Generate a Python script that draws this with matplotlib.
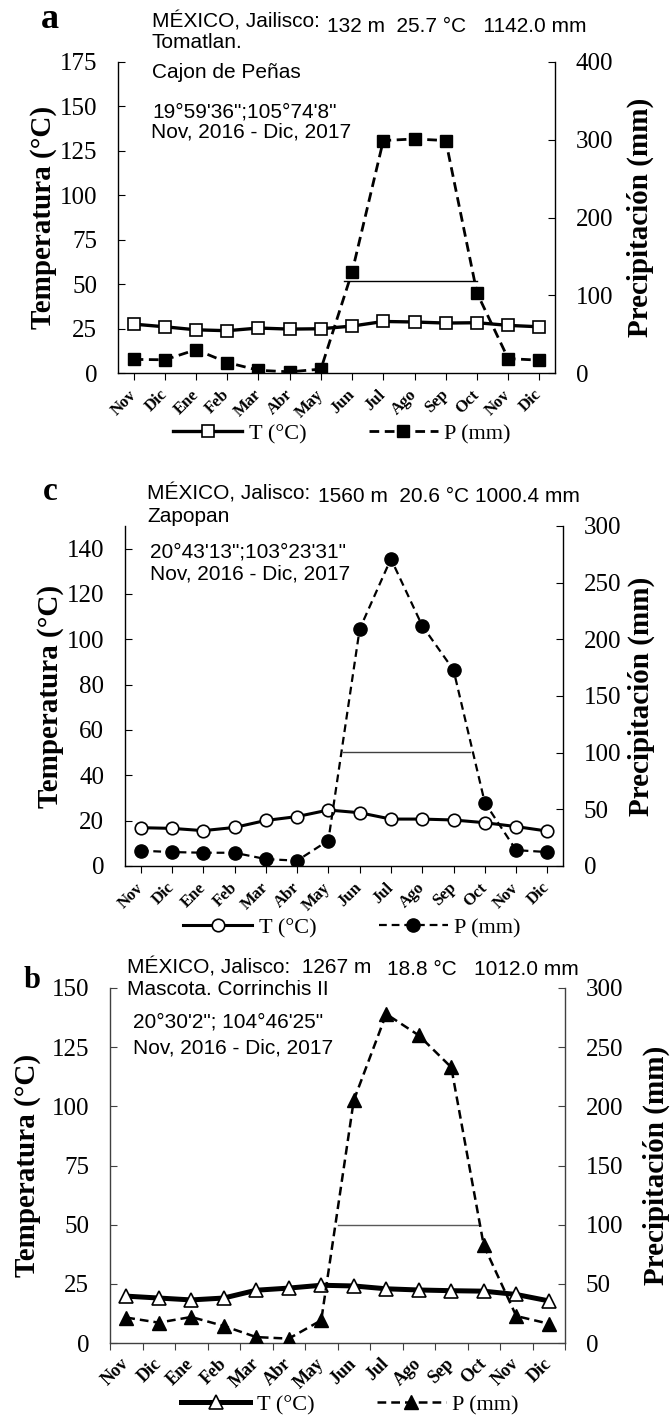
import matplotlib
matplotlib.use("Agg")
import matplotlib.pyplot as plt
import numpy as np
from matplotlib.lines import Line2D

# ---------------- data ----------------
MONTHS = ["Nov", "Dic", "Ene", "Feb", "Mar", "Abr", "May",
          "Jun", "Jul", "Ago", "Sep", "Oct", "Nov", "Dic"]

# Panel a: Tomatlan, Cajon de Peñas
A_T = [27.5, 26.0, 24.3, 23.8, 25.3, 24.7, 24.9, 26.4, 29.0, 28.7, 28.1, 28.3, 26.8, 26.0]
A_P = [17.5, 17.0, 30.0, 13.5, 3.5, 1.5, 5.0, 130.0, 299.0, 301.0, 299.0, 103.0, 18.5, 16.5]
A_LEFT_TICKS = [0, 25, 50, 75, 100, 125, 150, 175]
A_RIGHT_TICKS = [0, 100, 200, 300, 400]
A_WET = [51.8, 6.73, 11.0]          # level (°C axis), from, to (month index)

# Panel c: Zapopan
C_T = [16.9, 16.6, 15.6, 17.0, 20.1, 21.8, 24.7, 23.5, 20.7, 20.7, 20.3, 19.1, 17.4, 15.4]
C_P = [13.5, 12.3, 11.7, 11.7, 6.1, 4.7, 22.5, 209.0, 271.0, 212.0, 173.0, 56.0, 14.0, 12.3]
C_LEFT_TICKS = [0, 20, 40, 60, 80, 100, 120, 140]
C_RIGHT_TICKS = [0, 50, 100, 150, 200, 250, 300]
C_WET = [50.4, 6.46, 10.54]

# Panel b: Mascota, Corrinchis II
B_T = [19.8, 19.0, 18.2, 19.0, 22.3, 23.2, 24.4, 24.1, 22.9, 22.4, 22.1, 21.9, 20.5, 17.8]
B_P = [21.5, 17.2, 22.0, 14.4, 5.0, 3.7, 19.2, 205.0, 278.0, 260.0, 233.0, 82.5, 22.8, 16.3]
B_LEFT_TICKS = [0, 25, 50, 75, 100, 125, 150]
B_RIGHT_TICKS = [0, 50, 100, 150, 200, 250, 300]
B_WET = [50.0, 6.52, 10.83]

SERIF = "Liberation Serif"
SANS = "Liberation Sans"

W, H = 670, 1416
fig = plt.figure(figsize=(W / 100, H / 100), dpi=100)


def fx(px):
    return px / W


def fy(py):
    return 1 - py / H


def box(l, r, t, b):
    return [fx(l), fy(b), (r - l) / W, (b - t) / H]


def panel(rect, T, P, left_ticks, tmax, right_ticks, pmax, wet,
          tmarker, pmarker, tlw, plw, tms, pms, dash, spine_col,
          ticks_between, wet_col, msize):
    ax = fig.add_axes(rect)
    x = np.arange(len(MONTHS))
    ax.plot([wet[1], wet[2]], [wet[0], wet[0]], color=wet_col, lw=1.0, zorder=2)
    ax.plot(x, T, color="k", lw=tlw, marker=tmarker, ms=tms, mfc="white",
            mec="k", mew=1.2, zorder=3)
    ax.set_xlim(-0.5, len(MONTHS) - 0.5)
    ax.set_ylim(0, tmax)
    ax.set_yticks(left_ticks)
    ax2 = ax.twinx()
    ax2.plot(x, P, color="k", lw=plw, ls=(0, dash), marker=pmarker, ms=pms,
             mfc="k", mec="k", zorder=3)
    ax2.set_ylim(0, pmax)
    ax2.set_yticks(right_ticks)
    for a in (ax, ax2):
        a.spines["top"].set_visible(False)
        for s in a.spines.values():
            s.set_color(spine_col)
            s.set_linewidth(1.0)
    ax2.spines["left"].set_visible(False)
    ax2.spines["bottom"].set_visible(False)
    ax.spines["right"].set_visible(False)
    ax.tick_params(axis="y", direction="in", length=5, pad=15, labelsize=18,
                   color=spine_col)
    ax2.tick_params(axis="y", direction="in", length=5, pad=15, labelsize=18,
                    color=spine_col)
    for lab in ax.get_yticklabels() + ax2.get_yticklabels():
        lab.set_fontfamily(SERIF)
    if ticks_between:
        ax.set_xticks(np.arange(-0.5, len(MONTHS), 1.0))
        ax.set_xticklabels([])
        ax.set_xticks(x, minor=True)
        ax.set_xticklabels(MONTHS, minor=True)
        ax.tick_params(axis="x", which="major", direction="out", length=5,
                       color=spine_col)
        ax.tick_params(axis="x", which="minor", length=0, pad=13)
        labs = ax.get_xticklabels(minor=True)
    else:
        ax.set_xticks(x)
        ax.set_xticklabels(MONTHS)
        ax.tick_params(axis="x", direction="out", length=5, pad=9,
                       color=spine_col)
        labs = ax.get_xticklabels()
    for lab in labs:
        lab.set_rotation(45)
        lab.set_ha("right")
        lab.set_va("center")
        lab.set_rotation_mode("anchor")
        lab.set_fontweight("bold")
        lab.set_fontsize(msize)
        lab.set_fontfamily(SERIF)
    return ax, ax2


def legend(cx, cy, tmarker, pmarker, tlw, plw, tms, pms, dash):
    h1 = Line2D([], [], color="k", lw=tlw, marker=tmarker, ms=tms,
                mfc="white", mec="k", mew=1.2)
    h2 = Line2D([], [], color="k", lw=plw, ls=(0, dash), marker=pmarker,
                ms=pms, mfc="k", mec="k")
    fig.legend([h1, h2], ["T (°C)", "P (mm)"], loc="center",
               bbox_to_anchor=(fx(cx), fy(cy)), ncol=2, frameon=False,
               prop={"family": SERIF, "size": 16}, handlelength=3.1,
               handletextpad=0.3, columnspacing=2.8, numpoints=1,
               borderpad=0, borderaxespad=0)


def ylabels(lx, rx, cy):
    fig.text(fx(lx), fy(cy), "Temperatura (°C)", rotation=90, ha="center",
             va="center", family=SERIF, fontweight="bold", fontsize=21)
    fig.text(fx(rx), fy(cy), "Precipitación (mm)", rotation=90, ha="center",
             va="center", family=SERIF, fontweight="bold", fontsize=21)


def txt(x, y, s, size=15, **kw):
    fig.text(fx(x), fy(y), s, family=SANS, fontsize=size, ha="left",
             va="baseline", **kw)


# ---------------- panel a ----------------
panel(box(118, 555, 62, 373), A_T, A_P, A_LEFT_TICKS, 175, A_RIGHT_TICKS, 400,
      A_WET, "s", "s", 2.4, 2.0, 9, 8, (3.5, 2.0), "black", False, "black", 12)
legend(342, 434, "s", "s", 2.4, 2.0, 9, 8, (3.5, 2.0))
ylabels(44, 640, 217)
fig.text(fx(41), fy(28), "a", family=SERIF, fontweight="bold", fontsize=26,
         ha="left", va="baseline")
txt(152, 28, "MÉXICO, Jailisco:")
txt(327, 32, "132 m  25.7 °C   1142.0 mm")
txt(152, 48, "Tomatlan.")
txt(152, 78, "Cajon de Peñas")
txt(152, 118, "19°59'36\";105°74'8\"")
txt(151, 138, "Nov, 2016 - Dic, 2017")

# ---------------- panel c ----------------
panel(box(125, 563, 526, 866), C_T, C_P, C_LEFT_TICKS, 150, C_RIGHT_TICKS, 300,
      C_WET, "o", "o", 2.2, 1.6, 9, 9.5, (3.5, 2.2), "black", False, "#404040", 12)
legend(352, 928, "o", "o", 2.2, 1.6, 9, 9.5, (3.5, 2.2))
ylabels(51, 641, 696)
fig.text(fx(43), fy(500), "c", family=SERIF, fontweight="bold", fontsize=24,
         ha="left", va="baseline")
txt(147, 499, "MÉXICO, Jalisco:")
txt(318, 502, "1560 m  20.6 °C 1000.4 mm")
txt(147, 522, "Zapopan")
txt(150, 557, "20°43'13\";103°23'31\"")
txt(150, 580, "Nov, 2016 - Dic, 2017")

# ---------------- panel b ----------------
panel(box(110, 565, 988, 1343), B_T, B_P, B_LEFT_TICKS, 150, B_RIGHT_TICKS, 300,
      B_WET, "^", "^", 3.6, 1.8, 10, 10, (3.5, 2.0), "#404040", True, "#595959", 13)
legend(350, 1405, "^", "^", 3.6, 1.8, 10, 10, (3.5, 2.0))
ylabels(28, 656, 1165)
fig.text(fx(24), fy(988), "b", family=SERIF, fontweight="bold", fontsize=22,
         ha="left", va="baseline")
txt(127, 973, "MÉXICO, Jalisco:  1267 m")
txt(387, 975, "18.8 °C   1012.0 mm")
txt(127, 995, "Mascota. Corrinchis II")
txt(133, 1028, "20°30'2\"; 104°46'25\"")
txt(133, 1053, "Nov, 2016 - Dic, 2017")

fig.savefig("out.png", dpi=100)
